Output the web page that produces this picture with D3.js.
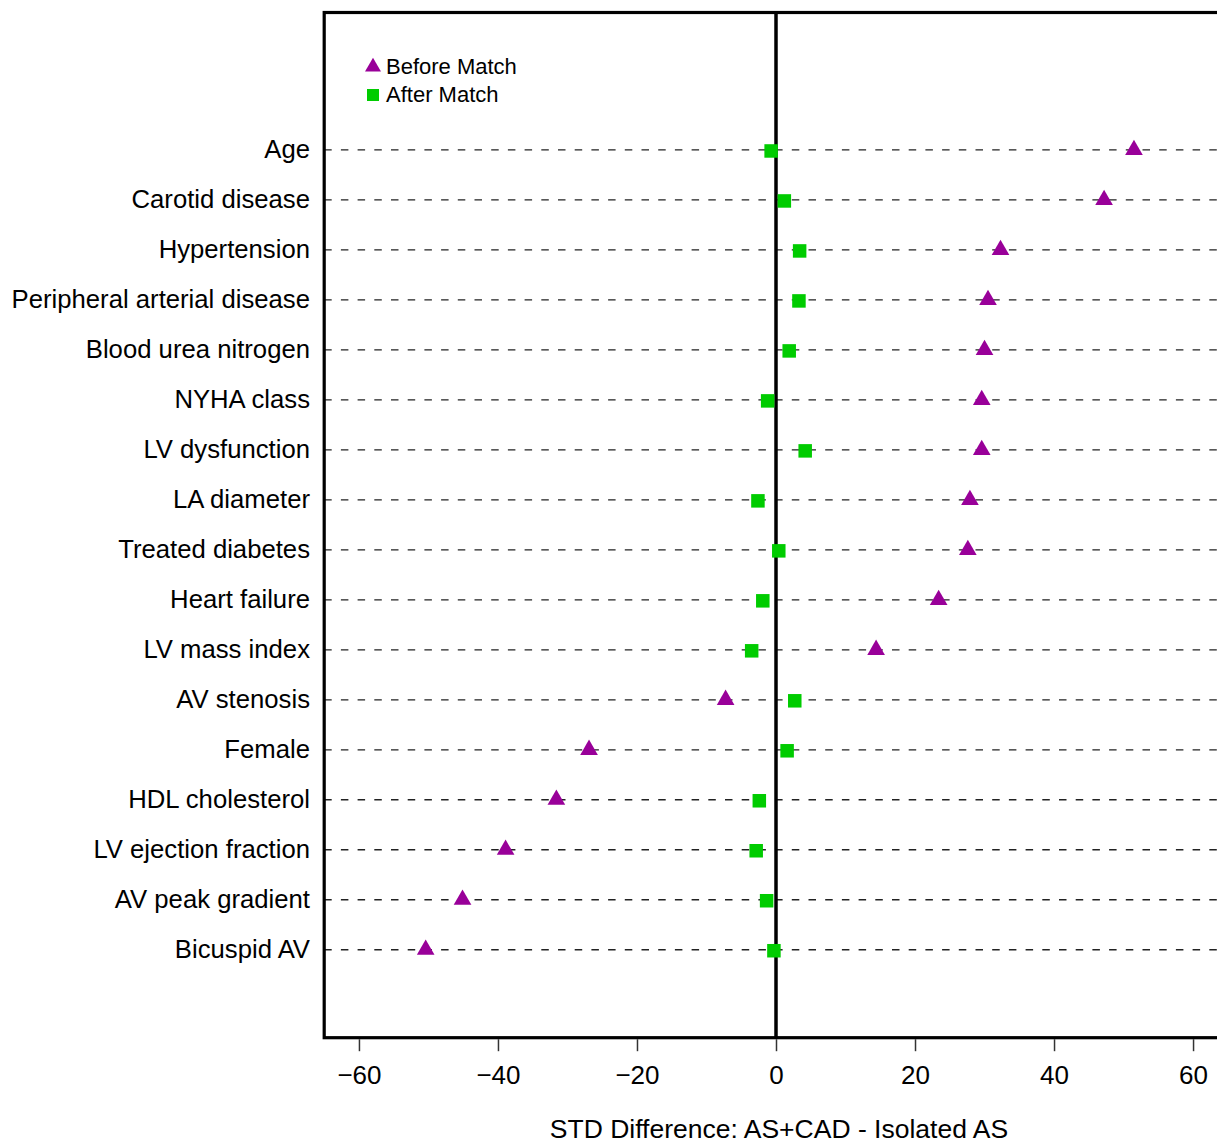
<!DOCTYPE html>
<html>
<head>
<meta charset="utf-8">
<script src="https://cdn.jsdelivr.net/npm/d3@7"></script>
<style>
  body { margin: 0; background: #fff; }
  text { font-family: "Liberation Sans", Arial, sans-serif; fill: #000; }
</style>
</head>
<body>
<svg id="chart" width="1217" height="1143"></svg>
<script>
// data
var variables = ["Age", "Carotid disease", "Hypertension", "Peripheral arterial disease",
  "Blood urea nitrogen", "NYHA class", "LV dysfunction", "LA diameter", "Treated diabetes",
  "Heart failure", "LV mass index", "AV stenosis", "Female", "HDL cholesterol",
  "LV ejection fraction", "AV peak gradient", "Bicuspid AV"];
var beforeMatch = [51.5, 47.2, 32.3, 30.5, 30.0, 29.6, 29.6, 27.9, 27.6, 23.4, 14.4,
  -7.25, -26.9, -31.6, -38.9, -45.1, -50.4];
var afterMatch = [-0.7, 1.2, 3.4, 3.3, 1.9, -1.2, 4.2, -2.6, 0.4, -1.9, -3.5,
  2.7, 1.6, -2.4, -2.85, -1.35, -0.3];
var xTicks = [-60, -40, -20, 0, 20, 40, 60];
var legendLabels = ["Before Match", "After Match"];

var svg = d3.select("#chart");
var purple = "#990099", green = "#00cc00";

var x = d3.scaleLinear().domain([-65, 65]).range([324.2, 1227.8]);
var y = d3.scaleLinear().domain([-2.75, 17.76]).range([12.5, 1037.7]);

var plotLeft = x(-65), plotRight = x(65), plotTop = y(-2.75), plotBottom = y(17.76);

// dashed row lines
svg.append("g").selectAll("line")
  .data(variables)
  .enter().append("line")
  .attr("x1", plotLeft).attr("x2", plotRight)
  .attr("y1", function(d, i) { return y(i); })
  .attr("y2", function(d, i) { return y(i); })
  .attr("stroke", "#222")
  .attr("stroke-width", 1.3)
  .attr("stroke-dasharray", "7.5,9.2");

// row labels
svg.append("g").selectAll("text")
  .data(variables)
  .enter().append("text")
  .attr("x", 310)
  .attr("y", function(d, i) { return y(i) + 8; })
  .attr("text-anchor", "end")
  .attr("font-size", 25.7)
  .text(function(d) { return d; });

// zero line
svg.append("line")
  .attr("x1", x(0)).attr("x2", x(0))
  .attr("y1", plotTop).attr("y2", plotBottom)
  .attr("stroke", "#000").attr("stroke-width", 3.5);

// frame
svg.append("rect")
  .attr("x", plotLeft).attr("y", plotTop)
  .attr("width", plotRight - plotLeft).attr("height", plotBottom - plotTop)
  .attr("fill", "none").attr("stroke", "#000").attr("stroke-width", 3.2);

var tri = d3.symbol().type(d3.symbolTriangle).size(135);

// before match triangles
svg.append("g").selectAll("path")
  .data(beforeMatch)
  .enter().append("path")
  .attr("d", tri)
  .attr("transform", function(d, i) { return "translate(" + x(d) + "," + y(i) + ")"; })
  .attr("fill", purple);

// after match squares
var sq = 13.5;
svg.append("g").selectAll("rect")
  .data(afterMatch)
  .enter().append("rect")
  .attr("x", function(d) { return x(d) - sq / 2; })
  .attr("y", function(d, i) { return y(i) - sq / 2 + 1; })
  .attr("width", sq).attr("height", sq)
  .attr("fill", green);

// x axis
var axis = svg.append("g")
  .attr("transform", "translate(0," + (plotBottom + 1.5) + ")")
  .call(d3.axisBottom(x).tickValues(xTicks).tickSize(12).tickPadding(14)
    .tickFormat(function(d) { return d < 0 ? "\u2212" + Math.abs(d) : d; }));
axis.select(".domain").remove();
axis.selectAll(".tick line").attr("stroke", "#333").attr("stroke-width", 1.5);
axis.selectAll(".tick text").attr("font-size", 26).attr("font-family", "Liberation Sans, Arial, sans-serif").attr("fill", "#000");

svg.append("text")
  .attr("x", 779).attr("y", 1138)
  .attr("text-anchor", "middle")
  .attr("font-size", 26.5)
  .text("STD Difference: AS+CAD - Isolated AS");

// legend
var legend = svg.append("g");
legend.append("path")
  .attr("d", d3.symbol().type(d3.symbolTriangle).size(110))
  .attr("transform", "translate(373,67)")
  .attr("fill", purple);
legend.append("rect")
  .attr("x", 367).attr("y", 89).attr("width", 12).attr("height", 12)
  .attr("fill", green);
legend.selectAll("text")
  .data(legendLabels)
  .enter().append("text")
  .attr("x", 386)
  .attr("y", function(d, i) { return 74 + i * 28; })
  .attr("font-size", 22)
  .text(function(d) { return d; });
</script>
</body>
</html>
